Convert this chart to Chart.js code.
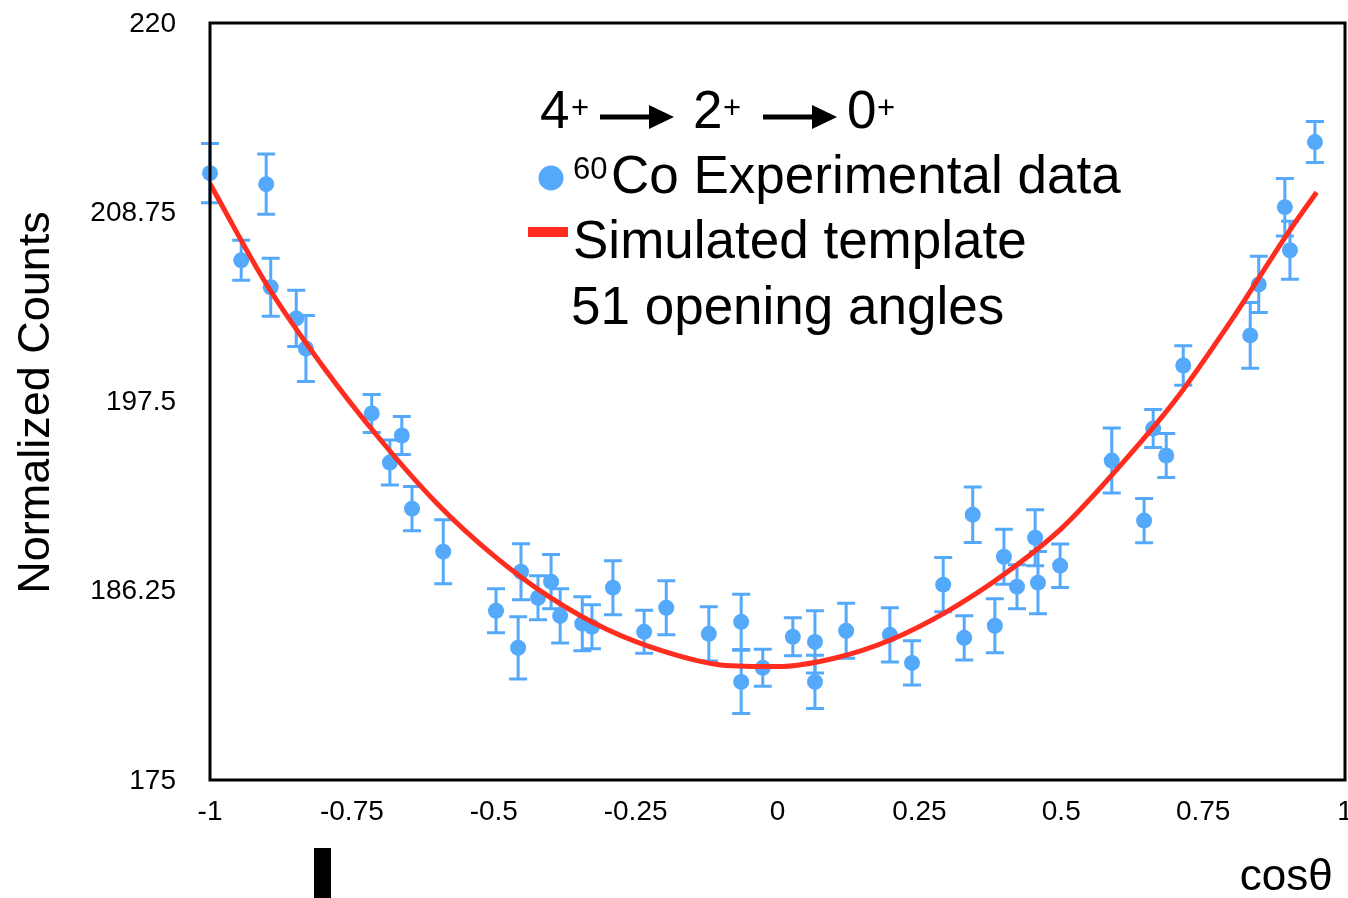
<!DOCTYPE html>
<html>
<head>
<meta charset="utf-8">
<script src="https://cdn.jsdelivr.net/npm/chart.js@4.4.1/dist/chart.umd.min.js"></script>
<style>
  html, body { margin: 0; padding: 0; background: #fff; }
  #wrap { width: 1348px; height: 898px; }
</style>
</head>
<body>
<div id="wrap"><canvas id="angChart" width="1348" height="898"></canvas></div>
<script>
// measured points (cos theta, normalized counts, error)
const cosTheta = [-1.000, -0.945, -0.901, -0.893, -0.848, -0.831, -0.715, -0.683, -0.662, -0.644,
    -0.589, -0.496, -0.457, -0.452, -0.422, -0.399, -0.383, -0.344, -0.327, -0.290,
    -0.235, -0.196, -0.121, -0.064, -0.064, -0.026, 0.027, 0.066, 0.066, 0.121,
    0.198, 0.237, 0.292, 0.329, 0.344, 0.383, 0.399, 0.422, 0.454, 0.459,
    0.498, 0.589, 0.646, 0.662, 0.685, 0.715, 0.833, 0.848, 0.894, 0.903, 0.947];
const counts = [211.13, 205.95, 210.48, 204.35, 202.50, 200.71, 196.85, 193.93, 195.54, 191.19,
    188.63, 185.12, 182.92, 187.44, 185.89, 186.85, 184.82, 184.35, 184.17, 186.49,
    183.87, 185.30, 183.75, 184.46, 180.89, 181.73, 183.57, 183.27, 180.89, 183.93,
    183.69, 182.02, 186.67, 183.51, 190.83, 184.23, 188.33, 186.55, 189.46, 186.79,
    187.80, 194.05, 190.48, 195.95, 194.35, 199.70, 201.49, 204.52, 209.11, 206.55, 212.98];
const errors = [1.76, 1.19, 1.79, 1.73, 1.67, 1.96, 1.13, 1.34, 1.13, 1.31,
    1.90, 1.31, 1.85, 1.67, 1.31, 1.61, 1.61, 1.61, 1.31, 1.61,
    1.28, 1.61, 1.61, 1.64, 1.88, 1.10, 1.13, 1.85, 1.58, 1.64,
    1.61, 1.31, 1.61, 1.31, 1.65, 1.61, 1.64, 1.31, 1.67, 1.85,
    1.29, 1.93, 1.31, 1.13, 1.31, 1.17, 1.96, 1.67, 1.71, 1.73, 1.22];

// simulated template curve
const curveX = [-1, -0.9, -0.8, -0.7, -0.6, -0.5, -0.4, -0.3, -0.2, -0.1, 0,
    0.1, 0.2, 0.3, 0.4, 0.5, 0.6, 0.7, 0.8, 0.9, 0.95];
const curveY = [210.5, 204.5, 199.6, 195.3, 191.5, 188.4, 185.9, 184.0, 182.7, 181.9, 181.8,
    182.3, 183.4, 185.1, 187.3, 190.0, 193.6, 197.6, 202.4, 207.6, 210.0];

// axis ticks
const xTicks = [-1, -0.75, -0.5, -0.25, 0, 0.25, 0.5, 0.75, 1];
const xTickLabels = ['-1', '-0.75', '-0.5', '-0.25', '0', '0.25', '0.5', '0.75', '1'];
const yTicks = [175, 186.25, 197.5, 208.75, 220];
const yTickLabels = ['175', '186.25', '197.5', '208.75', '220'];

const BLUE = '#55a9fb';
const RED = '#ff2d1f';
const FONT = '"Liberation Sans", Arial, Helvetica, sans-serif';

// keep tick labels from pushing the plot box around
function noLabelPadding(scale) {
    scale.paddingTop = 0;
    scale.paddingBottom = 0;
    scale.paddingLeft = 0;
    scale.paddingRight = 0;
}

document.addEventListener('DOMContentLoaded', function () {
    const ctx = document.getElementById('angChart').getContext('2d');

    // error bars, drawn below the points
    const errorBars = {
        id: 'errorBars',
        beforeDatasetsDraw(chart) {
            const c = chart.ctx;
            const xs = chart.scales.x, ys = chart.scales.y;
            c.save();
            c.strokeStyle = BLUE;
            c.lineWidth = 3;
            for (let i = 0; i < cosTheta.length; i++) {
                const px = xs.getPixelForValue(cosTheta[i]);
                const top = ys.getPixelForValue(counts[i] + errors[i]);
                const bot = ys.getPixelForValue(counts[i] - errors[i]);
                c.beginPath();
                c.moveTo(px, top); c.lineTo(px, bot);
                c.moveTo(px - 9, top); c.lineTo(px + 9, top);
                c.moveTo(px - 9, bot); c.lineTo(px + 9, bot);
                c.stroke();
            }
            c.restore();
        }
    };

    // box frame + legend text + stray bar
    const decorations = {
        id: 'decorations',
        afterDraw(chart) {
            const c = chart.ctx;
            const a = chart.chartArea;
            c.save();
            c.strokeStyle = '#000';
            c.lineWidth = 3;
            c.strokeRect(a.left, a.top - 1, a.right - a.left, a.bottom - a.top);

            c.fillStyle = '#000';
            c.fillRect(314, 848, 17, 50);

            c.textBaseline = 'alphabetic';
            c.textAlign = 'left';

            // line 1: 4+ -> 2+ -> 0+
            const arrow = (x1, x2, y) => {
                c.fillRect(x1, y - 2.5, x2 - x1 - 22, 5);
                c.beginPath();
                c.moveTo(x2 - 25, y - 12);
                c.lineTo(x2, y);
                c.lineTo(x2 - 25, y + 12);
                c.closePath();
                c.fill();
            };
            c.font = '53px ' + FONT;
            c.fillText('4', 540, 128);
            c.fillText('2', 693, 128);
            c.fillText('0', 847, 128);
            c.font = '31px ' + FONT;
            c.fillText('+', 571, 118);
            c.fillText('+', 723, 118);
            c.fillText('+', 877, 118);
            arrow(600, 674, 117);
            arrow(763, 837, 117);

            // line 2: data marker
            c.fillStyle = BLUE;
            c.beginPath();
            c.arc(551, 178, 12.5, 0, Math.PI * 2);
            c.fill();
            c.fillStyle = '#000';
            c.font = '31px ' + FONT;
            c.fillText('60', 573, 179);
            c.font = '53px ' + FONT;
            c.fillText('Co Experimental data', 611, 193);

            // line 3: template marker
            c.fillStyle = RED;
            c.fillRect(528, 227, 40, 10);
            c.fillStyle = '#000';
            c.fillText('Simulated template', 573, 258);

            // line 4
            c.fillText('51 opening angles', 571, 324);
            c.restore();
        }
    };

    const angChart = new Chart(ctx, {
        type: 'scatter',
        data: {
            datasets: [{
                label: 'Experimental data',
                data: cosTheta.map((x, i) => ({ x: x, y: counts[i] })),
                backgroundColor: BLUE,
                borderColor: BLUE,
                pointRadius: 8,
                pointHoverRadius: 8,
                borderWidth: 0,
                clip: false,
                order: 2
            }, {
                type: 'line',
                label: 'Simulated template',
                data: curveX.map((x, i) => ({ x: x, y: curveY[i] })),
                borderColor: RED,
                borderWidth: 5,
                pointRadius: 0,
                fill: false,
                cubicInterpolationMode: 'monotone',
                order: 1
            }]
        },
        options: {
            responsive: false,
            animation: false,
            events: [],
            layout: { autoPadding: false, padding: { top: 24, right: 3, left: 0, bottom: 0 } },
            plugins: {
                legend: { display: false },
                tooltip: { enabled: false }
            },
            scales: {
                x: {
                    type: 'linear',
                    min: -1,
                    max: 1,
                    afterFit(scale) { scale.height = 117; noLabelPadding(scale); },
                    afterBuildTicks(scale) { scale.ticks = xTicks.map(v => ({ value: v })); },
                    grid: { display: false, drawTicks: false },
                    border: { display: false },
                    ticks: {
                        autoSkip: false,
                        maxRotation: 0,
                        padding: 14,
                        color: '#000',
                        font: { family: FONT, size: 28 },
                        callback: (v, i) => xTickLabels[i]
                    },
                    title: {
                        display: true,
                        text: 'cosθ ',
                        align: 'end',
                        color: '#000',
                        padding: { top: 0, bottom: 0 },
                        font: { family: FONT, size: 44, lineHeight: 0.9 }
                    }
                },
                y: {
                    type: 'linear',
                    min: 175,
                    max: 220,
                    afterFit(scale) { scale.width = 210; noLabelPadding(scale); },
                    afterBuildTicks(scale) { scale.ticks = yTicks.map(v => ({ value: v })); },
                    grid: { display: false, drawTicks: false },
                    border: { display: false },
                    ticks: {
                        padding: 34,
                        color: '#000',
                        font: { family: FONT, size: 28 },
                        callback: (v, i) => yTickLabels[i]
                    },
                    title: {
                        display: true,
                        text: 'Normalized Counts',
                        color: '#000',
                        padding: { top: 10, bottom: 0 },
                        font: { family: FONT, size: 45 }
                    }
                }
            }
        },
        plugins: [errorBars, decorations]
    });
});
</script>
</body>
</html>
